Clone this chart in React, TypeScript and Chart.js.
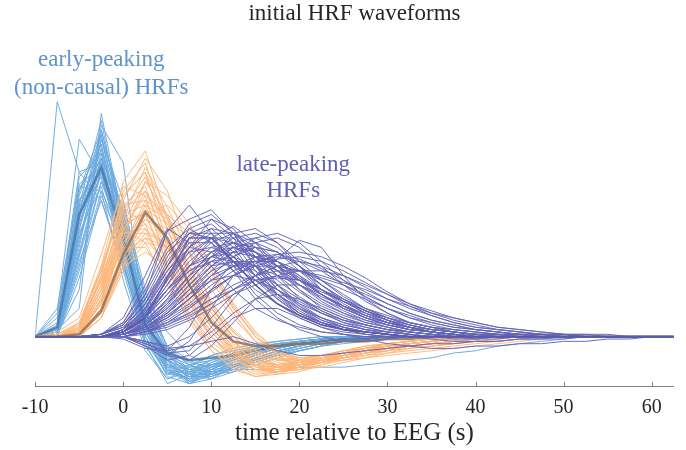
import React, { useEffect, useRef } from "react";
import { Chart, registerables } from "chart.js";

Chart.register(...registerables);

// sample times (s)
const timeS = [-10, -7.5, -5, -2.5, 0, 2.5, 5, 7.5, 10, 12.5, 15, 17.5, 20, 22.5, 25, 27.5, 30, 32.5, 35, 37.5, 40, 42.5, 45, 47.5, 50, 52.5, 55, 57.5, 60, 62.5];
const xTicks = [-10, 0, 10, 20, 30, 40, 50, 60];

const titleText = "initial HRF waveforms";
const xAxisLabel = "time relative to EEG (s)";
const earlyLabel = ["early-peaking", "(non-causal) HRFs"];
const lateLabel = ["late-peaking", "HRFs"];

// early-peaking (non-causal) HRFs
const earlyHRFs = [
  [0, 100, 70, 58, 30, 2, -12, -14, -10, -7, -5, -3, -2, -1, -1, 0, 0, 0, 0, 0, 0, 0, 0, 0, 0, 0, 0, 0, 0, 0],
  [0, 3, 12, 95, 48, 4, -15, -18, -14, -10, -7, -5, -3, -2, -1, 0, 0, 0, 0, 0, 0, 0, 0, 0, 0, 0, 0, 0, 0, 0],
  [0, 10, 84, 68, 38, 0, -16, -12, -8, -6, -4, -3, -2, -1, 0, 0, 0, 0, 0, 0, 0, 0, 0, 0, 0, 0, 0, 0, 0, 0],
  [0, 2, 62, 88, 52, 10, -12, -17, -15, -11, -8, -5, -3, -2, -1, -1, 0, 0, 0, 0, 0, 0, 0, 0, 0, 0, 0, 0, 0, 0],
  [0, 1, 55, 82, 40, 6, -10, -14, -12, -9, -6, -4, -3, -2, -1, 0, 0, 0, 0, 0, 0, 0, 0, 0, 0, 0, 0, 0, 0, 0],
  [0, 0, 48, 78, 45, 12, -8, -16, -16, -12, -9, -6, -4, -2, -1, 0, 0, 0, 0, 0, 0, 0, 0, 0, 0, 0, 0, 0, 0, 0],
  [0, 4, 58, 76, 30, -2, -14, -18, -13, -9, -6, -4, -2, -1, 0, 0, 0, 0, 0, 0, 0, 0, 0, 0, 0, 0, 0, 0, 0, 0],
  [0, 0, 40, 74, 50, 15, -6, -14, -17, -14, -10, -7, -5, -3, -2, -1, 0, 0, 0, 0, 0, 0, 0, 0, 0, 0, 0, 0, 0, 0],
  [0, 6, 65, 72, 28, -4, -18, -15, -10, -7, -5, -3, -2, -1, 0, 0, 0, 0, 0, 0, 0, 0, 0, 0, 0, 0, 0, 0, 0, 0],
  [0, 0, 35, 70, 56, 20, -5, -12, -16, -15, -12, -9, -6, -4, -2, -1, 0, 0, 0, 0, 0, 0, 0, 0, 0, 0, 0, 0, 0, 0],
  [0, 2, 52, 68, 36, 4, -12, -19, -16, -12, -8, -5, -3, -2, -1, 0, 0, 0, 0, 0, 0, 0, 0, 0, 0, 0, 0, 0, 0, 0],
  [0, 0, 30, 66, 45, 8, -10, -20, -18, -13, -9, -6, -4, -2, -1, 0, 0, 0, 0, 0, 0, 0, 0, 0, 0, 0, 0, 0, 0, 0],
  [0, 1, 20, 90, 74, 3, -8, -12, -10, -8, -6, -4, -3, -2, -1, 0, 0, 0, 0, 0, 0, 0, 0, 0, 0, 0, 0, 0, 0, 0],
  [0, 0, 44, 64, 32, -3, -20, -16, -11, -8, -5, -3, -2, -1, 0, 0, 0, 0, 0, 0, 0, 0, 0, 0, 0, 0, 0, 0, 0, 0],
  [0, 3, 50, 86, 46, 7, -9, -13, -12, -10, -7, -5, -3, -2, -1, 0, 0, 0, 0, 0, 0, 0, 0, 0, 0, 0, 0, 0, 0, 0],
  [0, 0, 25, 60, 38, 10, -6, -11, -13, -12, -10, -8, -6, -4, -3, -2, -1, 0, 0, 0, 0, 0, 0, 0, 0, 0, 0, 0, 0, 0],
  [0, 8, 70, 74, 34, 2, -14, -16, -11, -7, -4, -2, -1, 0, 0, 0, 0, 0, 0, 0, 0, 0, 0, 0, 0, 0, 0, 0, 0, 0],
  [0, 0, 38, 84, 58, 14, -4, -10, -14, -13, -11, -8, -6, -4, -2, -1, 0, 0, 0, 0, 0, 0, 0, 0, 0, 0, 0, 0, 0, 0],
  [0, 0, 42, 70, 40, 6, -8, -14, -15, -14, -14, -14, -13, -13, -13, -12, -11, -10, -9, -7, -6, -4, -3, -2, -1, 0, 0, 0, 0, 0],
  [0, 0, 56, 92, 44, 0, -17, -20, -14, -9, -6, -4, -2, -1, 0, 0, 0, 0, 0, 0, 0, 0, 0, 0, 0, 0, 0, 0, 0, 0],
  [0, 2, 46, 76, 52, 18, 2, -8, -12, -12, -10, -7, -5, -3, -2, -1, 0, 0, 0, 0, 0, 0, 0, 0, 0, 0, 0, 0, 0, 0],
  [0, 0, 32, 58, 30, 4, -10, -15, -13, -10, -7, -5, -3, -2, -1, 0, 0, 0, 0, 0, 0, 0, 0, 0, 0, 0, 0, 0, 0, 0],
  [0, 12, 64, 62, 24, -6, -18, -13, -8, -5, -3, -2, -1, 0, 0, 0, 0, 0, 0, 0, 0, 0, 0, 0, 0, 0, 0, 0, 0, 0],
  [0, 0, 50, 80, 42, 2, -13, -19, -17, -13, -9, -6, -4, -2, -1, 0, 0, 0, 0, 0, 0, 0, 0, 0, 0, 0, 0, 0, 0, 0],
  [0, 0, 45, 84, 50, 8, -11, -17, -15, -11, -8, -5, -3, -2, -1, 0, 0, 0, 0, 0, 0, 0, 0, 0, 0, 0, 0, 0, 0, 0],
  [0, 2, 60, 86, 38, 2, -15, -18, -13, -9, -6, -4, -2, -1, 0, 0, 0, 0, 0, 0, 0, 0, 0, 0, 0, 0, 0, 0, 0, 0],
  [0, 0, 36, 72, 48, 12, -7, -15, -16, -13, -10, -7, -4, -2, -1, 0, 0, 0, 0, 0, 0, 0, 0, 0, 0, 0, 0, 0, 0, 0],
  [0, 5, 68, 78, 32, -2, -16, -17, -12, -8, -5, -3, -2, -1, 0, 0, 0, 0, 0, 0, 0, 0, 0, 0, 0, 0, 0, 0, 0, 0],
  [0, 0, 28, 62, 42, 10, -8, -16, -18, -15, -11, -8, -5, -3, -2, -1, 0, 0, 0, 0, 0, 0, 0, 0, 0, 0, 0, 0, 0, 0],
  [0, 3, 54, 80, 46, 6, -12, -16, -14, -10, -7, -5, -3, -2, -1, 0, 0, 0, 0, 0, 0, 0, 0, 0, 0, 0, 0, 0, 0, 0],
  [0, 0, 42, 76, 54, 16, -4, -12, -15, -14, -11, -8, -6, -4, -2, -1, 0, 0, 0, 0, 0, 0, 0, 0, 0, 0, 0, 0, 0, 0],
  [0, 1, 58, 70, 34, 0, -14, -19, -14, -10, -7, -4, -2, -1, 0, 0, 0, 0, 0, 0, 0, 0, 0, 0, 0, 0, 0, 0, 0, 0],
  [0, 0, 34, 66, 40, 6, -10, -17, -17, -13, -9, -6, -4, -2, -1, 0, 0, 0, 0, 0, 0, 0, 0, 0, 0, 0, 0, 0, 0, 0],
  [0, 4, 62, 82, 40, 4, -13, -15, -12, -9, -6, -4, -3, -2, -1, 0, 0, 0, 0, 0, 0, 0, 0, 0, 0, 0, 0, 0, 0, 0],
  [0, 0, 48, 74, 44, 10, -9, -18, -16, -12, -8, -5, -3, -2, -1, 0, 0, 0, 0, 0, 0, 0, 0, 0, 0, 0, 0, 0, 0, 0],
  [0, 2, 52, 88, 50, 6, -14, -20, -16, -11, -7, -4, -2, -1, 0, 0, 0, 0, 0, 0, 0, 0, 0, 0, 0, 0, 0, 0, 0, 0],
];
const earlyMean = [0, 4, 52, 72, 42, 5, -7, -10, -9, -8, -6, -4, -3, -2, -1, -1, 0, 0, 0, 0, 0, 0, 0, 0, 0, 0, 0, 0, 0, 0];

// canonical-timed HRFs
const causalHRFs = [
  [0, 0, 4, 30, 66, 79, 50, 28, 10, -2, -8, -10, -9, -8, -6, -5, -4, -3, -2, -1, -1, 0, 0, 0, 0, 0, 0, 0, 0, 0],
  [0, 0, 2, 18, 50, 72, 55, 35, 15, 2, -6, -10, -10, -8, -6, -4, -3, -2, -1, 0, 0, 0, 0, 0, 0, 0, 0, 0, 0, 0],
  [0, 0, 6, 28, 60, 70, 40, 16, 0, -10, -14, -13, -11, -9, -7, -5, -3, -2, -1, 0, 0, 0, 0, 0, 0, 0, 0, 0, 0, 0],
  [0, 0, 0, 12, 42, 66, 60, 48, 30, 14, 2, -6, -10, -10, -9, -7, -5, -4, -3, -2, -1, 0, 0, 0, 0, 0, 0, 0, 0, 0],
  [0, 0, 3, 22, 56, 64, 38, 18, 4, -6, -11, -12, -11, -9, -7, -5, -4, -3, -2, -1, 0, 0, 0, 0, 0, 0, 0, 0, 0, 0],
  [0, 0, 1, 15, 45, 62, 48, 30, 12, 0, -8, -12, -12, -10, -8, -6, -4, -3, -2, -1, 0, 0, 0, 0, 0, 0, 0, 0, 0, 0],
  [0, 2, 8, 35, 64, 60, 30, 8, -6, -14, -17, -15, -12, -9, -6, -4, -3, -2, -1, 0, 0, 0, 0, 0, 0, 0, 0, 0, 0, 0],
  [0, 0, 0, 10, 38, 58, 52, 44, 28, 12, 1, -7, -11, -10, -9, -7, -6, -4, -3, -2, -1, 0, 0, 0, 0, 0, 0, 0, 0, 0],
  [0, 0, 4, 25, 52, 56, 34, 14, 0, -8, -12, -12, -10, -8, -6, -5, -4, -3, -2, -1, 0, 0, 0, 0, 0, 0, 0, 0, 0, 0],
  [0, 0, 1, 14, 40, 54, 48, 38, 26, 12, 0, -7, -10, -10, -9, -8, -7, -6, -5, -4, -3, -2, -1, 0, 0, 0, 0, 0, 0, 0],
  [0, 0, 2, 20, 48, 52, 30, 10, -4, -12, -16, -15, -12, -9, -7, -5, -3, -2, -1, 0, 0, 0, 0, 0, 0, 0, 0, 0, 0, 0],
  [0, 0, 0, 8, 34, 50, 46, 36, 24, 10, -2, -9, -12, -11, -10, -9, -8, -7, -6, -5, -4, -3, -2, -1, 0, 0, 0, 0, 0, 0],
  [0, 1, 6, 30, 55, 48, 24, 6, -6, -13, -17, -16, -13, -10, -7, -5, -3, -2, -1, 0, 0, 0, 0, 0, 0, 0, 0, 0, 0, 0],
  [0, 0, 2, 16, 42, 48, 38, 24, 12, 2, -6, -10, -11, -10, -8, -6, -4, -3, -2, -1, 0, 0, 0, 0, 0, 0, 0, 0, 0, 0],
  [0, 0, 3, 22, 44, 46, 28, 12, 0, -8, -12, -13, -12, -10, -8, -6, -5, -4, -3, -2, -1, 0, 0, 0, 0, 0, 0, 0, 0, 0],
  [0, 0, 0, 10, 32, 44, 40, 28, 14, 3, -5, -9, -10, -9, -8, -6, -5, -3, -2, -1, 0, 0, 0, 0, 0, 0, 0, 0, 0, 0],
  [0, 0, 1, 14, 36, 42, 30, 16, 4, -5, -10, -12, -11, -9, -7, -5, -4, -3, -2, -1, 0, 0, 0, 0, 0, 0, 0, 0, 0, 0],
  [0, 0, 4, 24, 46, 40, 22, 8, -4, -11, -15, -15, -13, -11, -9, -7, -6, -5, -4, -3, -2, -1, 0, 0, 0, 0, 0, 0, 0, 0],
  [0, 0, 0, 8, 28, 40, 38, 30, 20, 8, -2, -7, -9, -8, -7, -6, -5, -4, -3, -2, -1, 0, 0, 0, 0, 0, 0, 0, 0, 0],
  [0, 0, 2, 18, 38, 38, 24, 10, -2, -10, -14, -14, -12, -10, -8, -6, -4, -3, -2, -1, 0, 0, 0, 0, 0, 0, 0, 0, 0, 0],
  [0, 0, 1, 12, 30, 36, 30, 20, 8, -2, -9, -13, -14, -13, -11, -9, -7, -5, -4, -3, -2, -1, 0, 0, 0, 0, 0, 0, 0, 0],
  [0, 0, 5, 28, 58, 76, 62, 36, 14, -2, -12, -16, -15, -12, -9, -7, -5, -3, -2, -1, 0, 0, 0, 0, 0, 0, 0, 0, 0, 0],
  [0, 0, 3, 20, 54, 68, 46, 22, 6, -4, -10, -12, -11, -9, -7, -5, -3, -2, -1, 0, 0, 0, 0, 0, 0, 0, 0, 0, 0, 0],
  [0, 0, 2, 14, 46, 60, 52, 26, 6, -6, -13, -15, -14, -12, -10, -8, -6, -4, -3, -2, -1, 0, 0, 0, 0, 0, 0, 0, 0, 0],
  [0, 0, 3, 26, 62, 74, 46, 22, 6, -6, -12, -14, -13, -11, -8, -6, -4, -3, -2, -1, 0, 0, 0, 0, 0, 0, 0, 0, 0, 0],
  [0, 0, 1, 16, 48, 66, 52, 30, 12, 0, -8, -12, -12, -10, -8, -6, -4, -3, -2, -1, 0, 0, 0, 0, 0, 0, 0, 0, 0, 0],
  [0, 0, 4, 24, 54, 62, 40, 20, 4, -7, -13, -14, -12, -10, -7, -5, -4, -3, -2, -1, 0, 0, 0, 0, 0, 0, 0, 0, 0, 0],
  [0, 0, 0, 10, 36, 56, 50, 42, 28, 13, 0, -8, -12, -11, -9, -7, -5, -4, -3, -2, -1, 0, 0, 0, 0, 0, 0, 0, 0, 0],
  [0, 1, 5, 28, 56, 58, 36, 16, 2, -8, -14, -15, -13, -10, -8, -6, -4, -3, -2, -1, 0, 0, 0, 0, 0, 0, 0, 0, 0, 0],
  [0, 0, 2, 18, 46, 54, 40, 22, 8, -3, -10, -13, -12, -10, -8, -6, -4, -3, -2, -1, 0, 0, 0, 0, 0, 0, 0, 0, 0, 0],
  [0, 0, 2, 16, 40, 50, 44, 36, 24, 10, -2, -9, -12, -11, -9, -7, -5, -4, -3, -2, -1, 0, 0, 0, 0, 0, 0, 0, 0, 0],
  [0, 0, 3, 22, 50, 52, 32, 14, 0, -9, -14, -15, -13, -10, -8, -6, -4, -3, -2, -1, 0, 0, 0, 0, 0, 0, 0, 0, 0, 0],
  [0, 0, 1, 12, 34, 46, 38, 24, 10, 0, -7, -11, -12, -11, -9, -7, -6, -5, -4, -3, -2, -1, 0, 0, 0, 0, 0, 0, 0, 0],
  [0, 0, 2, 20, 44, 44, 30, 14, 2, -7, -12, -13, -12, -10, -8, -6, -5, -4, -3, -2, -1, 0, 0, 0, 0, 0, 0, 0, 0, 0],
  [0, 0, 0, 10, 30, 42, 38, 26, 12, 2, -6, -10, -11, -10, -8, -6, -5, -4, -3, -2, -1, 0, 0, 0, 0, 0, 0, 0, 0, 0],
  [0, 0, 4, 26, 60, 70, 50, 26, 8, -5, -12, -15, -14, -11, -8, -6, -4, -3, -2, -1, 0, 0, 0, 0, 0, 0, 0, 0, 0, 0],
  [0, 0, 0, 8, 30, 52, 56, 46, 30, 14, 2, -6, -9, -9, -8, -7, -5, -4, -3, -2, -1, 0, 0, 0, 0, 0, 0, 0, 0, 0],
];
const causalMean = [0, 0, 1, 11, 35, 53, 42, 22, 6, -2, -4, -4, -3, -3, -2, -2, -1, -1, 0, 0, 0, 0, 0, 0, 0, 0, 0, 0, 0, 0];

// late-peaking HRFs
const lateHRFs = [
  [0, 0, 0, 0, 0, 2, 5, 9, 14, 20, 26, 33, 41, 38, 26, 16, 10, 6, 4, 2, 1, 0, 0, 0, 0, 0, 0, 0, 0, 0],
  [0, 0, 0, 0, 3, 18, 45, 56, 44, 30, 18, 10, 5, 2, 1, 0, 0, 0, 0, 0, 0, 0, 0, 0, 0, 0, 0, 0, 0, 0],
  [0, 0, 0, 1, 6, 22, 45, 50, 54, 44, 30, 18, 10, 6, 3, 2, 1, 0, 0, 0, 0, 0, 0, 0, 0, 0, 0, 0, 0, 0],
  [0, 0, 0, 0, 2, 10, 24, 38, 46, 44, 36, 26, 16, 10, 6, 4, 2, 1, 0, 0, 0, 0, 0, 0, 0, 0, 0, 0, 0, 0],
  [0, 0, 0, 0, 1, 6, 16, 30, 42, 47, 40, 30, 20, 12, 8, 5, 3, 2, 1, 0, 0, 0, 0, 0, 0, 0, 0, 0, 0, 0],
  [0, 0, 0, 1, 5, 16, 30, 42, 46, 38, 26, 16, 9, 5, 3, 1, 0, 0, 0, 0, 0, 0, 0, 0, 0, 0, 0, 0, 0, 0],
  [0, 0, 0, 0, 2, 8, 18, 30, 38, 40, 36, 30, 24, 18, 12, 8, 5, 3, 2, 1, 0, 0, 0, 0, 0, 0, 0, 0, 0, 0],
  [0, 0, 0, 0, 1, 4, 10, 20, 30, 36, 38, 36, 30, 24, 18, 12, 8, 5, 3, 2, 1, 0, 0, 0, 0, 0, 0, 0, 0, 0],
  [0, 0, 0, 0, 3, 12, 28, 40, 40, 32, 22, 14, 8, 4, 2, 1, 0, 0, 0, 0, 0, 0, 0, 0, 0, 0, 0, 0, 0, 0],
  [0, 0, 0, 0, 1, 5, 12, 22, 32, 38, 34, 28, 22, 16, 12, 8, 6, 4, 3, 2, 1, 1, 0, 0, 0, 0, 0, 0, 0, 0],
  [0, 0, 0, 0, 0, -4, -8, -2, 12, 26, 34, 32, 26, 18, 12, 8, 5, 3, 2, 1, 0, 0, 0, 0, 0, 0, 0, 0, 0, 0],
  [0, 0, 0, 0, -1, -5, -6, 4, 20, 32, 30, 22, 14, 8, 4, 2, 1, 0, 0, 0, 0, 0, 0, 0, 0, 0, 0, 0, 0, 0],
  [0, 0, 0, 0, 2, 10, 22, 34, 42, 42, 36, 28, 20, 14, 10, 7, 5, 3, 2, 1, 1, 0, 0, 0, 0, 0, 0, 0, 0, 0],
  [0, 0, 0, 0, 1, 4, 8, 14, 22, 28, 32, 34, 32, 28, 22, 17, 12, 8, 6, 4, 3, 2, 1, 1, 0, 0, 0, 0, 0, 0],
  [0, 0, 0, 1, 4, 14, 30, 44, 48, 40, 28, 18, 11, 6, 3, 2, 1, 0, 0, 0, 0, 0, 0, 0, 0, 0, 0, 0, 0, 0],
  [0, 0, 0, 0, 2, 7, 15, 26, 36, 42, 44, 40, 32, 24, 17, 12, 8, 5, 3, 2, 1, 1, 0, 0, 0, 0, 0, 0, 0, 0],
  [0, 0, 0, 0, 0, 2, 6, 12, 20, 26, 30, 30, 28, 25, 22, 18, 14, 10, 7, 5, 3, 2, 1, 1, 0, 0, 0, 0, 0, 0],
  [0, 0, 0, 0, 3, 12, 26, 36, 38, 34, 26, 18, 12, 7, 4, 2, 1, 0, 0, 0, 0, 0, 0, 0, 0, 0, 0, 0, 0, 0],
  [0, 0, 0, 0, 1, 4, 10, 18, 26, 30, 30, 26, 22, 17, 13, 10, 7, 5, 3, 2, 1, 1, 0, 0, 0, 0, 0, 0, 0, 0],
  [0, 0, 0, 0, 2, 8, 20, 32, 40, 44, 40, 32, 24, 16, 11, 7, 4, 2, 1, 0, 0, 0, 0, 0, 0, 0, 0, 0, 0, 0],
  [0, 0, 0, 0, 0, -2, -8, -10, -4, 6, 16, 22, 22, 18, 13, 9, 6, 4, 2, 1, 0, 0, 0, 0, 0, 0, 0, 0, 0, 0],
  [0, 0, 0, 0, 0, 2, 4, 8, 14, 20, 26, 30, 32, 30, 26, 21, 16, 12, 9, 6, 4, 3, 2, 1, 1, 0, 0, 0, 0, 0],
  [0, 0, 0, 1, 6, 20, 38, 46, 40, 28, 16, 8, 3, 0, -2, -2, -1, 0, 0, 0, 0, 0, 0, 0, 0, 0, 0, 0, 0, 0],
  [0, 0, 0, 0, 1, 3, 8, 16, 26, 34, 38, 36, 30, 22, 15, 10, 6, 4, 2, 1, 0, 0, 0, 0, 0, 0, 0, 0, 0, 0],
  [0, 0, 0, 0, 0, -2, -5, -4, -2, 0, -3, -6, -8, -8, -7, -6, -5, -4, -3, -3, -2, -2, -1, -1, -1, 0, 0, 0, 0, 0],
  [0, 0, 0, 0, 2, 6, 14, 24, 34, 40, 42, 38, 30, 22, 16, 11, 7, 4, 2, 1, 0, 0, 0, 0, 0, 0, 0, 0, 0, 0],
  [0, 0, 0, 0, 1, 5, 12, 22, 30, 32, 28, 22, 16, 11, 7, 5, 3, 2, 1, 0, 0, 0, 0, 0, 0, 0, 0, 0, 0, 0],
  [0, 0, 0, 0, 3, 10, 20, 28, 32, 30, 24, 18, 12, 8, 5, 3, 2, 1, 0, 0, 0, 0, 0, 0, 0, 0, 0, 0, 0, 0],
  [0, 0, 0, 0, 0, 2, 5, 10, 16, 22, 26, 28, 28, 26, 23, 20, 16, 13, 10, 8, 6, 4, 3, 2, 1, 1, 0, 0, 0, 0],
  [0, 0, 0, 0, 2, 9, 22, 38, 50, 46, 34, 22, 13, 7, 4, 2, 1, 0, 0, 0, 0, 0, 0, 0, 0, 0, 0, 0, 0, 0],
  [0, 0, 0, 0, 1, 3, 6, 10, 16, 20, 24, 25, 24, 20, 16, 12, 9, 6, 4, 3, 2, 1, 1, 0, 0, 0, 0, 0, 0, 0],
  [0, 0, 0, 0, 0, -3, -6, -4, 2, 10, 16, 18, 16, 12, 8, 5, 3, 1, 0, -1, -1, 0, 0, 0, 0, 0, 0, 0, 0, 0],
  [0, 0, 0, 0, 2, 10, 24, 36, 42, 40, 34, 26, 19, 13, 9, 6, 4, 2, 1, 0, 0, 0, 0, 0, 0, 0, 0, 0, 0, 0],
  [0, 0, 0, 0, 1, 4, 10, 18, 24, 26, 24, 20, 15, 10, 6, 3, 1, 0, -1, -2, -2, -2, -1, -1, 0, 0, 0, 0, 0, 0],
  [0, 0, 0, 1, 5, 16, 34, 48, 52, 44, 32, 20, 12, 6, 3, 1, 0, 0, 0, 0, 0, 0, 0, 0, 0, 0, 0, 0, 0, 0],
  [0, 0, 0, 0, 1, 4, 9, 16, 24, 30, 34, 35, 33, 29, 24, 19, 14, 10, 7, 5, 3, 2, 1, 1, 0, 0, 0, 0, 0, 0],
  [0, 0, 0, 0, 0, 1, 3, 7, 12, 18, 22, 26, 28, 28, 26, 22, 18, 14, 11, 8, 6, 4, 3, 2, 1, 1, 1, 0, 0, 0],
  [0, 0, 0, 0, 2, 7, 16, 26, 32, 34, 30, 24, 17, 11, 7, 4, 2, 1, 0, 0, 0, 0, 0, 0, 0, 0, 0, 0, 0, 0],
  [0, 0, 0, 0, 0, -4, -10, -8, 0, 8, 12, 12, 8, 4, 1, -1, -3, -4, -5, -5, -4, -4, -3, -3, -2, -2, -1, -1, 0, 0],
  [0, 0, 0, 0, 1, 5, 14, 26, 36, 40, 38, 32, 25, 18, 13, 9, 6, 4, 2, 1, 0, 0, 0, 0, 0, 0, 0, 0, 0, 0],
  [0, 0, 0, 1, 8, 26, 46, 40, 30, 20, 12, 7, 4, 2, 1, 0, 0, 0, 0, 0, 0, 0, 0, 0, 0, 0, 0, 0, 0, 0],
  [0, 0, 0, 0, 2, 12, 30, 46, 50, 42, 30, 20, 13, 8, 5, 3, 2, 1, 0, 0, 0, 0, 0, 0, 0, 0, 0, 0, 0, 0],
  [0, 0, 0, 0, 1, 6, 14, 24, 34, 44, 46, 40, 30, 20, 13, 8, 5, 3, 2, 1, 0, 0, 0, 0, 0, 0, 0, 0, 0, 0],
  [0, 0, 0, 0, 0, 3, 8, 16, 26, 34, 40, 42, 38, 30, 22, 15, 10, 6, 4, 2, 1, 1, 0, 0, 0, 0, 0, 0, 0, 0],
  [0, 0, 0, 1, 4, 14, 28, 38, 36, 28, 20, 14, 9, 6, 4, 2, 1, 0, 0, 0, 0, 0, 0, 0, 0, 0, 0, 0, 0, 0],
  [0, 0, 0, 0, 2, 8, 18, 28, 34, 36, 34, 30, 25, 20, 15, 11, 8, 5, 3, 2, 1, 0, 0, 0, 0, 0, 0, 0, 0, 0],
  [0, 0, 0, 0, 1, 4, 10, 18, 28, 36, 42, 44, 40, 32, 24, 17, 12, 8, 5, 3, 2, 1, 1, 0, 0, 0, 0, 0, 0, 0],
  [0, 0, 0, 0, 3, 14, 32, 44, 44, 36, 26, 17, 10, 6, 3, 2, 1, 0, 0, 0, 0, 0, 0, 0, 0, 0, 0, 0, 0, 0],
  [0, 0, 0, 0, 0, -3, -7, -6, 4, 16, 26, 30, 28, 22, 16, 11, 7, 4, 2, 1, 0, 0, 0, 0, 0, 0, 0, 0, 0, 0],
  [0, 0, 0, 0, 1, 5, 12, 20, 28, 32, 32, 28, 24, 19, 15, 11, 8, 6, 4, 3, 2, 1, 1, 0, 0, 0, 0, 0, 0, 0],
  [0, 0, 0, 0, 2, 9, 20, 30, 36, 38, 36, 32, 26, 20, 15, 10, 7, 4, 2, 1, 0, 0, 0, 0, 0, 0, 0, 0, 0, 0],
  [0, 0, 0, 0, 1, 3, 7, 13, 20, 26, 30, 33, 34, 32, 28, 23, 18, 13, 9, 6, 4, 3, 2, 1, 1, 0, 0, 0, 0, 0],
  [0, 0, 0, 1, 5, 18, 36, 44, 42, 34, 24, 16, 10, 6, 3, 2, 1, 0, 0, 0, 0, 0, 0, 0, 0, 0, 0, 0, 0, 0],
  [0, 0, 0, 0, 1, 4, 11, 20, 30, 38, 40, 36, 28, 20, 14, 9, 6, 3, 2, 1, 0, 0, 0, 0, 0, 0, 0, 0, 0, 0],
  [0, 0, 0, 0, 0, -2, -4, 0, 8, 18, 24, 26, 24, 20, 15, 11, 7, 4, 2, 0, -1, -1, 0, 0, 0, 0, 0, 0, 0, 0],
  [0, 0, 0, 0, 2, 8, 20, 30, 34, 32, 26, 20, 14, 10, 7, 5, 3, 2, 1, 0, 0, 0, 0, 0, 0, 0, 0, 0, 0, 0],
  [0, 0, 0, 0, 1, 4, 9, 16, 24, 30, 32, 32, 28, 24, 20, 16, 12, 9, 6, 4, 3, 2, 1, 1, 0, 0, 0, 0, 0, 0],
  [0, 0, 0, 0, 3, 11, 26, 38, 44, 44, 38, 30, 22, 15, 10, 6, 4, 2, 1, 0, 0, 0, 0, 0, 0, 0, 0, 0, 0, 0],
  [0, 0, 0, 0, 1, 5, 13, 24, 34, 38, 36, 30, 24, 18, 13, 9, 6, 4, 2, 1, 0, 0, 0, 0, 0, 0, 0, 0, 0, 0],
  [0, 0, 0, 0, 0, 2, 6, 12, 19, 26, 31, 35, 36, 34, 30, 25, 19, 14, 10, 7, 5, 3, 2, 1, 1, 0, 0, 0, 0, 0],
];
const lateMean = [0, 0, 0, 0, 2, 8, 25, 42, 42, 32, 22, 14, 9, 5, 3, 2, 1, 0, 0, 0, 0, 0, 0, 0, 0, 0, 0, 0, 0, 0];

const SERIF = '"Liberation Serif", "Times New Roman", serif';

function series(values: number[], color: string, width: number) {
  return {
    data: values.map((v, i) => ({ x: timeS[i], y: v })),
    borderColor: color,
    borderWidth: width,
    pointRadius: 0,
    pointHoverRadius: 0,
    tension: 0,
    fill: false,
  };
}

const decorPlugin = {
  id: "decor",
  afterDraw(chart: any) {
    const { ctx, chartArea } = chart;
    const xs = chart.scales.x;
    const ys = chart.scales.y;
    ctx.save();
    // inward tick marks
    ctx.strokeStyle = "#808080";
    ctx.lineWidth = 1;
    xs.ticks.forEach((t: any) => {
      const px = Math.round(xs.getPixelForValue(t.value)) + 0.5;
      ctx.beginPath();
      ctx.moveTo(px, chartArea.bottom);
      ctx.lineTo(px, chartArea.bottom - 5);
      ctx.stroke();
    });
    // annotations
    ctx.font = `23px ${SERIF}`;
    ctx.textAlign = "center";
    ctx.textBaseline = "middle";
    ctx.fillStyle = "#5f93cc";
    ctx.fillText(earlyLabel[0], xs.getPixelForValue(-2.5), ys.getPixelForValue(117.7));
    ctx.fillText(earlyLabel[1], xs.getPixelForValue(-2.5), ys.getPixelForValue(105.8));
    ctx.fillStyle = "#6060b0";
    ctx.fillText(lateLabel[0], xs.getPixelForValue(19.3), ys.getPixelForValue(73));
    ctx.fillText(lateLabel[1], xs.getPixelForValue(19.3), ys.getPixelForValue(62));
    ctx.restore();
  },
};

export default function App() {
  const ref = useRef<HTMLCanvasElement | null>(null);
  useEffect(() => {
    if (!ref.current) return;
    const datasets: any[] = [];
    datasets.push(series(lateMean, "rgba(88,88,170,0.9)", 1.6));
    lateHRFs.forEach((r) => datasets.push(series(r, "rgba(100,100,182,0.95)", 1)));
    datasets.push(series(causalMean, "rgba(140,115,95,0.85)", 2.5));
    causalHRFs.forEach((r) => datasets.push(series(r, "rgba(253,182,122,0.95)", 1)));
    datasets.push(series(earlyMean, "rgba(75,120,170,0.85)", 2.5));
    earlyHRFs.forEach((r) => datasets.push(series(r, "rgba(106,170,222,0.95)", 1)));

    const chart = new Chart(ref.current, {
      type: "line",
      data: { datasets },
      options: {
        responsive: false,
        animation: false,
        events: [],
        layout: { padding: { left: 35.2, right: 12.3, top: 0, bottom: 4.3 } },
        plugins: {
          legend: { display: false },
          tooltip: { enabled: false },
          title: {
            display: true,
            text: titleText,
            color: "#262626",
            font: { family: SERIF, size: 23, weight: "normal", lineHeight: 1 },
            padding: { top: 2, bottom: 29.7 },
          },
        },
        scales: {
          x: {
            type: "linear",
            min: -10,
            max: 62.5,
            afterBuildTicks: (scale: any) => {
              scale.ticks = xTicks.map((v) => ({ value: v }));
            },
            grid: { display: false, drawTicks: false },
            border: { display: true, color: "#808080", width: 1 },
            ticks: {
              color: "#262626",
              font: { family: SERIF, size: 20, lineHeight: 1 },
              padding: 11,
              maxRotation: 0,
              autoSkip: false,
              callback: (v: any) => String(v),
            },
            title: {
              display: true,
              text: xAxisLabel,
              color: "#262626",
              font: { family: SERIF, size: 25, lineHeight: 1 },
              padding: { top: -8, bottom: 0 },
            },
          },
          y: {
            display: false,
            min: -21.3,
            max: 120,
          },
        },
      },
      plugins: [decorPlugin],
    });
    return () => chart.destroy();
  }, []);

  return (
    <div style={{ position: "fixed", left: 0, top: 0, width: 686, height: 450, background: "#fff" }}>
      <canvas ref={ref} width={686} height={450} />
    </div>
  );
}
